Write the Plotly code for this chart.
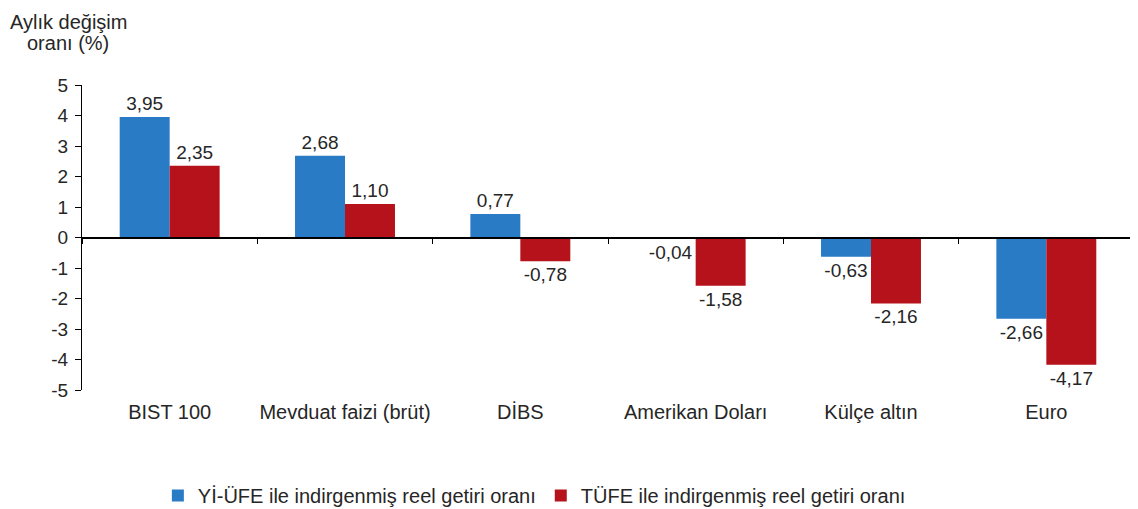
import plotly.graph_objects as go

categories = ["BIST 100", "Mevduat faizi (brüt)", "DİBS", "Amerikan Doları", "Külçe altın", "Euro"]
yi_ufe = [3.95, 2.68, 0.77, -0.04, -0.63, -2.66]
tufe = [2.35, 1.10, -0.78, -1.58, -2.16, -4.17]
series_names = ["Yİ-ÜFE ile indirgenmiş reel getiri oranı", "TÜFE ile indirgenmiş reel getiri oranı"]
y_ticks = [-5, -4, -3, -2, -1, 0, 1, 2, 3, 4, 5]
y_tick_labels = [str(v) for v in y_ticks]
title_lines = ["Aylık değişim", "oranı (%)"]

BLUE = "#2A7BC6"
RED = "#B5121B"
FONT = "Liberation Sans, Arial, sans-serif"
TXT = "#262626"
FS = 19

fig = go.Figure()
for name, vals, col in [(series_names[0], yi_ufe, BLUE), (series_names[1], tufe, RED)]:
    fig.add_trace(go.Bar(
        x=categories, y=vals, name=name, marker=dict(color=col, line=dict(width=0)),
        text=[f"{v:.2f}".replace(".", ",") for v in vals],
        textposition="outside", cliponaxis=False,
        textfont=dict(family=FONT, size=FS, color=TXT),
    ))

# helper axis carrying the category boundary ticks on the zero line
fig.add_trace(go.Bar(x=categories, y=[0] * len(categories), xaxis="x2", showlegend=False,
                     hoverinfo="skip", marker=dict(color="rgba(0,0,0,0)")))

fig.update_layout(
    width=1130, height=501,
    paper_bgcolor="white", plot_bgcolor="white",
    barmode="group", bargap=0.43, bargroupgap=0,
    separators=",.",
    margin=dict(l=74, r=4, t=77, b=119, autoexpand=False),
    font=dict(family=FONT, size=FS, color=TXT),
    xaxis=dict(showline=False, ticks="", showgrid=False, zeroline=False,
               tickfont=dict(family=FONT, size=20, color=TXT), ticklabelstandoff=8),
    xaxis2=dict(overlaying="x", anchor="free", position=0.5, showline=True, linecolor="#000000",
                linewidth=1.5, ticks="outside", ticklen=6, tickcolor="#000000", tickson="boundaries",
                showticklabels=False, showgrid=False, zeroline=False, matches="x"),
    yaxis=dict(range=[-5, 5], tickvals=y_ticks, ticktext=y_tick_labels, showline=True,
               linecolor="#000000", linewidth=1, ticks="outside", ticklen=6, tickcolor="#000000",
               showgrid=False, zeroline=False,
               tickfont=dict(family=FONT, size=FS, color=TXT), ticklabelstandoff=3),
    legend=dict(orientation="h", x=0.43, xanchor="center", y=-0.346, yanchor="middle",
                font=dict(family=FONT, size=20, color=TXT), itemwidth=30, traceorder="normal"),
    annotations=[dict(text=t, xref="paper", yref="paper",
                      x=-0.0133, y=yy, xanchor="center", yanchor="middle", showarrow=False,
                      align="center", font=dict(family=FONT, size=20, color=TXT))
                 for t, yy in zip(title_lines, [1.207, 1.138])],
)

fig.write_html("out.html")
